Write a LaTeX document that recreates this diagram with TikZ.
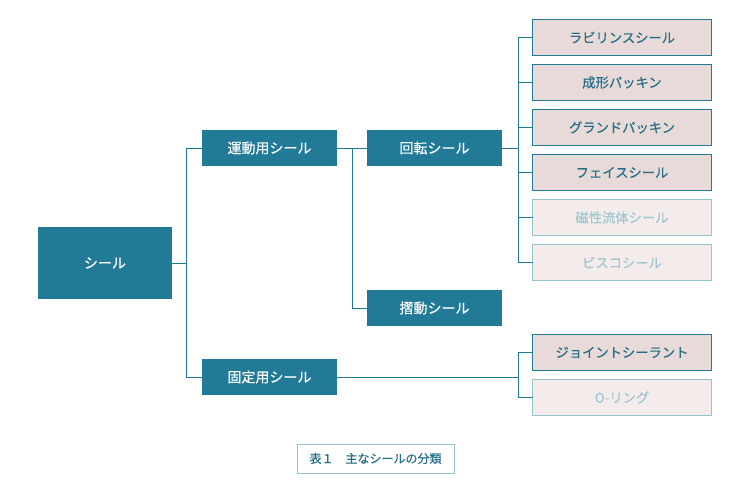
\documentclass[tikz,border=0pt]{standalone}
\usepackage{fontspec}
\newfontfamily\jp[FakeBold=0.4]{Noto Sans CJK JP}
\definecolor{teal}{RGB}{33,123,150}
\definecolor{pinkA}{RGB}{232,218,216}
\definecolor{pinkB}{RGB}{244,236,235}
\definecolor{txtA}{RGB}{36,110,135}
\definecolor{lineB}{RGB}{150,197,210}
\definecolor{txtB}{RGB}{160,198,210}
\begin{document}
\begin{tikzpicture}[x=1pt,y=-1pt,
  every node/.style={font=\jp, inner sep=0pt, outer sep=0pt},
  darkbox/.style={fill=teal, text=white, minimum width=135pt, minimum height=36pt, font=\jp\fontsize{14}{16}\selectfont},
  leafA/.style={fill=pinkA, draw=teal, line width=1pt, text=txtA, minimum width=179pt, minimum height=36pt, font=\jp\fontsize{13.3}{15}\selectfont},
  leafB/.style={fill=pinkB, draw=lineB, line width=1pt, text=txtB, minimum width=179pt, minimum height=36pt, font=\jp\fontsize{13.3}{15}\selectfont},
  conn/.style={draw=teal, line width=1pt}]
\useasboundingbox (0,0) rectangle (750,495);
\fill[white] (0,0) rectangle (750,495);
\node[darkbox, minimum width=134pt, minimum height=72pt] (root) at (105,263) {シール};
\node[darkbox] (undo) at (269.5,148) {運動用シール};
\node[darkbox] (kotei) at (269.5,377) {固定用シール};
\node[darkbox] (kaiten) at (434.5,148) {回転シール};
\node[darkbox] (shudo) at (434.5,308) {摺動シール};
\node[leafA] (l1) at (622,37.5) {ラビリンスシール};
\node[leafA] (l2) at (622,82.5) {成形パッキン};
\node[leafA] (l3) at (622,127.5) {グランドパッキン};
\node[leafA] (l4) at (622,172.5) {フェイスシール};
\node[leafB] (l5) at (622,217.5) {磁性流体シール};
\node[leafB] (l6) at (622,262.5) {ビスコシール};
\node[leafA] (j1) at (622,352.5) {ジョイントシーラント};
\node[leafB] (j2) at (622,397.5) {O-リング};
\node[draw=lineB, line width=1pt, text=txtA, minimum width=157pt, minimum height=29pt, font=\jp\fontsize{12}{14}\selectfont] (cap) at (375.5,458.5) {表１\hspace{1em}主なシールの分類};
% connectors
\coordinate (t1) at (186,263);
\draw[conn] (root.east) -- (t1);
\draw[conn] (undo.west) -- (186,148) -- (186,377) -- (kotei.west);
\draw[conn] (undo.east) -- (kaiten.west);
\draw[conn] (352,148) -- (352,308) -- (shudo.west);
\coordinate (t2) at (518,148);
\draw[conn] (kaiten.east) -- (t2);
\draw[conn] (l1.west) -- (518,37.5) -- (518,262.5) -- (l6.west);
\foreach \n in {l2,l3,l4,l5} \draw[conn] (\n.west) -- (518,0 |- \n.west);
\draw[conn] (kotei.east) -- (518,377);
\draw[conn] (j1.west) -- (518,352.5) -- (518,397.5) -- (j2.west);
\end{tikzpicture}
\end{document}
